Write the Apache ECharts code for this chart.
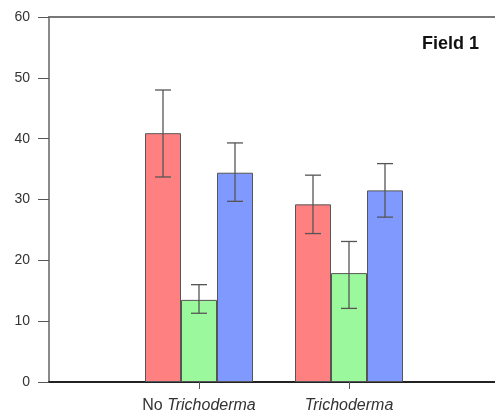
<!DOCTYPE html>
<html>
<head>
<meta charset="utf-8">
<script src="https://cdn.jsdelivr.net/npm/echarts@6/dist/echarts.min.js"></script>
<style>
  html, body { margin: 0; padding: 0; background: #fff; }
  #chart { width: 495px; height: 414px; }
</style>
</head>
<body>
<div id="chart"></div>
<script>
// categories (empty ends pad the axis so the groups sit at 1/3 and 2/3)
const categories = ['', 'No Trichoderma', 'Trichoderma', '']
const yTicks = [0, 10, 20, 30, 40, 50, 60]

// bar means
const redValues = [null, 40.9, 29.2, null]
const greenValues = [null, 13.5, 17.9, null]
const blueValues = [null, 34.4, 31.5, null]

// error bar ends [low, high]
const redErr = [null, [33.7, 48.0], [24.4, 34.0], null]
const greenErr = [null, [11.3, 16.0], [12.1, 23.1], null]
const blueErr = [null, [29.7, 39.3], [27.1, 35.9], null]

const colors = ['#ff8080', '#9cf89c', '#8099ff']
const barW = 36

const chart = echarts.init(document.getElementById('chart'))

function errData(arr, k) {
  let out = []
  arr.forEach((e, i) => {
    if (e) out.push([i, e[0], e[1], k])
  })
  return out
}

function renderErr(params, api) {
  const k = api.value(3)
  const lo = api.coord([api.value(0), api.value(1)])
  const hi = api.coord([api.value(0), api.value(2)])
  const x = lo[0] + (k - 1) * barW
  const half = 8
  const style = { stroke: '#555', lineWidth: 1.3 }
  return {
    type: 'group',
    children: [
      { type: 'line', shape: { x1: x, y1: lo[1], x2: x, y2: hi[1] }, style: style },
      { type: 'line', shape: { x1: x - half, y1: hi[1], x2: x + half, y2: hi[1] }, style: style },
      { type: 'line', shape: { x1: x - half, y1: lo[1], x2: x + half, y2: lo[1] }, style: style },
    ],
  }
}

const barStyle = (c) => ({ color: c, borderColor: '#555', borderWidth: 1 })

let option = {
  animation: false,
  textStyle: { fontFamily: 'Liberation Sans, Arial, sans-serif' },
  title: {
    text: 'Field 1',
    right: 11,
    top: 30,
    textStyle: { fontSize: 18, fontWeight: 'bold', color: '#111', fontFamily: 'Liberation Sans, Arial, sans-serif' },
  },
  grid: { left: 49, width: 450, top: 17, bottom: 32, outerBoundsMode: 'none' },
  xAxis: [
    {
      type: 'category',
      data: categories,
      boundaryGap: false,
      axisLine: { lineStyle: { color: '#222', width: 2 } },
      axisTick: {
        show: true,
        length: 7,
        interval: (i) => i === 1 || i === 2,
        lineStyle: { color: '#555', width: 1 },
      },
      axisLabel: {
        interval: 0,
        margin: 16,
        fontSize: 16,
        color: '#333',
        formatter: function (v) {
          if (v === 'No Trichoderma') return 'No {i|Trichoderma}'
          if (v === 'Trichoderma') return '{i|Trichoderma}'
          return ''
        },
        rich: { i: { fontStyle: 'italic', fontSize: 16, color: '#333' } },
      },
      splitLine: { show: false },
    },
    {
      type: 'category',
      data: categories,
      boundaryGap: false,
      position: 'top',
      axisLine: { lineStyle: { color: '#777', width: 2 } },
      axisTick: { show: false },
      axisLabel: { show: false },
    },
  ],
  yAxis: {
    type: 'value',
    min: yTicks[0],
    max: yTicks[yTicks.length - 1],
    interval: 10,
    axisLine: { show: true, lineStyle: { color: '#8a8a8a', width: 2 } },
    axisTick: { show: true, length: 11, lineStyle: { color: '#555', width: 1 } },
    axisLabel: { margin: 19, fontSize: 14, color: '#333' },
    splitLine: { show: false },
  },
  series: [
    { type: 'bar', data: redValues, barWidth: barW, barGap: '0%', itemStyle: barStyle(colors[0]) },
    { type: 'bar', data: greenValues, barWidth: barW, barGap: '0%', itemStyle: barStyle(colors[1]) },
    { type: 'bar', data: blueValues, barWidth: barW, barGap: '0%', itemStyle: barStyle(colors[2]) },
    { type: 'custom', renderItem: renderErr, data: errData(redErr, 0), z: 10 },
    { type: 'custom', renderItem: renderErr, data: errData(greenErr, 1), z: 10 },
    { type: 'custom', renderItem: renderErr, data: errData(blueErr, 2), z: 10 },
  ],
}

chart.setOption(option)
</script>
</body>
</html>
